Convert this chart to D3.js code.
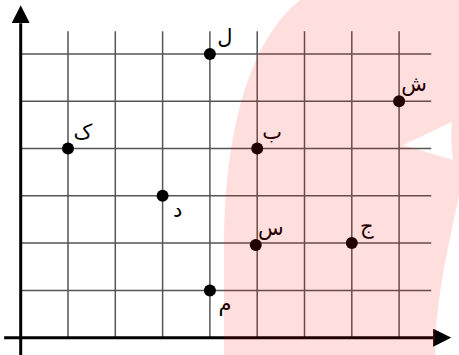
<!DOCTYPE html>
<html>
<head>
<meta charset="utf-8">
<script src="https://cdn.jsdelivr.net/npm/d3@7"></script>
<style>
  body { margin: 0; background: #fff; }
  svg { display: block; }
</style>
</head>
<body>
<div id="chart"></div>
<script>
// point data
const pointLabels = ["ک", "د", "ل", "م", "ب", "س", "ج", "ش"];
const xValues = [1, 3, 4, 4, 5, 4.97, 7, 8];
const yValues = [4, 3, 6, 1, 4, 1.96, 2, 5];
const xTicks = [1, 2, 3, 4, 5, 6, 7, 8];
const yTicks = [1, 2, 3, 4, 5, 6];

const width = 459, height = 355;

const svg = d3.select('#chart')
    .append('svg')
    .attr('width', width)
    .attr('height', height);

// scales
const x = d3.scaleLinear().domain([0, 9]).range([20.7, 446.4]);
const y = d3.scaleLinear().domain([0, 7]).range([337.7, 6.6]);

const defs = svg.append('defs');

// grid
const grid = svg.append('g')
    .attr('stroke', '#555')
    .attr('stroke-width', 1.5);

grid.selectAll('.vgrid')
    .data(xTicks)
    .enter().append('line')
    .attr('class', 'vgrid')
    .attr('x1', d => x(d)).attr('x2', d => x(d))
    .attr('y1', y(6.48)).attr('y2', y(0));

grid.selectAll('.hgrid')
    .data(yTicks)
    .enter().append('line')
    .attr('class', 'hgrid')
    .attr('x1', x(0)).attr('x2', x(8.68))
    .attr('y1', d => y(d)).attr('y2', d => y(d));

// axes with arrows
defs.append('marker')
    .attr('id', 'arrow')
    .attr('viewBox', '0 0 10 10')
    .attr('refX', 0).attr('refY', 5)
    .attr('markerWidth', 6).attr('markerHeight', 6)
    .attr('markerUnits', 'strokeWidth')
    .attr('orient', 'auto')
    .append('path')
    .attr('d', 'M0,0 L10,5 L0,10 Z')
    .attr('fill', '#000');

svg.append('line')
    .attr('x1', x(-0.35)).attr('x2', x(8.72))
    .attr('y1', y(0)).attr('y2', y(0))
    .attr('stroke', '#000').attr('stroke-width', 3)
    .attr('marker-end', 'url(#arrow)');

svg.append('line')
    .attr('x1', x(0)).attr('x2', x(0))
    .attr('y1', height).attr('y2', y(6.65))
    .attr('stroke', '#000').attr('stroke-width', 3)
    .attr('marker-end', 'url(#arrow)');

// points
const pts = pointLabels.map((l, i) => ({ label: l, x: xValues[i], y: yValues[i] }));
const below = new Set(["د", "م"]);

svg.selectAll('.dot')
    .data(pts)
    .enter().append('circle')
    .attr('class', 'dot')
    .attr('cx', d => x(d.x))
    .attr('cy', d => y(d.y))
    .attr('r', 6)
    .attr('fill', '#000');

svg.selectAll('.lbl')
    .data(pts)
    .enter().append('text')
    .attr('class', 'lbl')
    .attr('x', d => x(d.x) + 15)
    .attr('y', d => y(d.y) + (below.has(d.label) ? 21 : -10))
    .attr('text-anchor', 'middle')
    .style('font-family', '"DejaVu Sans", sans-serif')
    .style('font-size', '21px')
    .attr('fill', '#000')
    .text(d => d.label);

// pink watermark over the right side, with a white play-like notch cut out
const mask = defs.append('mask').attr('id', 'wm');
mask.append('rect').attr('width', width).attr('height', height).attr('fill', '#fff');
mask.append('path')
    .attr('d', 'M403,145 L452,122 Q450,140 453,160 Z')
    .attr('fill', '#000');

svg.append('path')
    .attr('d', 'M300,0 C250,40 224,130 224,250 V355 H435 C435,300 450,240 459,195 V0 Z')
    .attr('fill', '#ff0000')
    .attr('fill-opacity', 0.13)
    .attr('mask', 'url(#wm)');
</script>
</body>
</html>
